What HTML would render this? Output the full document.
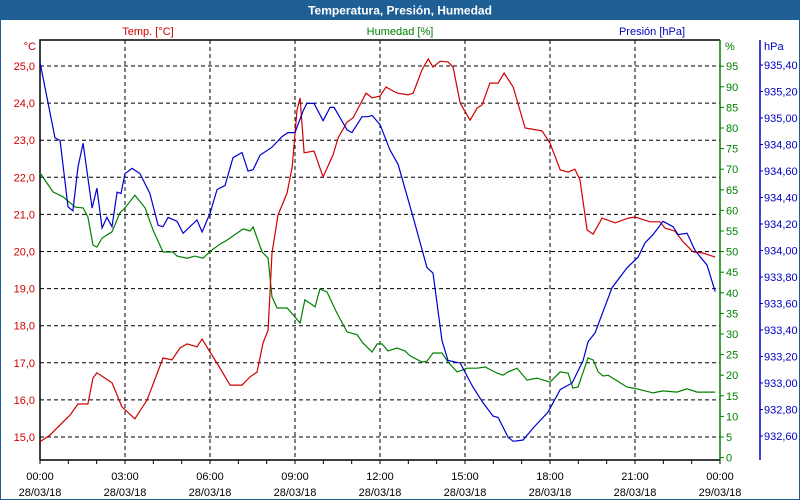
<!DOCTYPE html>
<html><head><meta charset="utf-8"><style>
body{margin:0;width:800px;height:500px;overflow:hidden;background:#fff;font-family:"Liberation Sans",sans-serif}
svg{display:block}
</style></head><body>
<svg id="chart" width="800" height="500" xmlns="http://www.w3.org/2000/svg">
<rect x="0" y="0" width="800" height="500" fill="#fff" stroke="#1f5f96" stroke-width="2"/>
<rect x="0" y="0" width="800" height="20" fill="#1f5f96"/>
<text x="400" y="14.5" text-anchor="middle" fill="#fff" font-size="12" font-weight="bold">Temperatura, Presión, Humedad</text>
<text x="148" y="35" text-anchor="middle" fill="#d00000" font-size="11">Temp. [°C]</text>
<text x="400" y="35" text-anchor="middle" fill="#008000" font-size="11">Humedad [%]</text>
<text x="652" y="35" text-anchor="middle" fill="#0000c0" font-size="11">Presión [hPa]</text>
<text x="36" y="50" text-anchor="end" fill="#d00000" font-size="11">°C</text>
<text x="725" y="50" fill="#008000" font-size="11">%</text>
<text x="764" y="50" fill="#0000c0" font-size="11">hPa</text>
<g id="grid"></g><g id="axes"></g><g id="series"></g>
</svg>
<script>
const tempTicks=[15,16,17,18,19,20,21,22,23,24,25];
const humTicks=[0,5,10,15,20,25,30,35,40,45,50,55,60,65,70,75,80,85,90,95];
const presTicks=[932.6,932.8,933.0,933.2,933.4,933.6,933.8,934.0,934.2,934.4,934.6,934.8,935.0,935.2,935.4];
const timeLabels=["00:00","03:00","06:00","09:00","12:00","15:00","18:00","21:00","00:00"];
const dateLabels=["28/03/18","28/03/18","28/03/18","28/03/18","28/03/18","28/03/18","28/03/18","28/03/18","29/03/18"];
const tempHours=[0,0.35,1.06,1.34,1.69,1.87,2.01,2.54,2.89,3.35,3.78,4.34,4.66,4.94,5.19,5.54,5.72,6.0,6.35,6.71,7.13,7.41,7.66,7.87,8.05,8.19,8.4,8.72,8.9,9.07,9.18,9.32,9.67,9.99,10.34,10.52,10.84,11.05,11.51,11.72,12.0,12.21,12.6,12.99,13.17,13.48,13.7,13.87,14.12,14.4,14.58,14.83,15.18,15.43,15.6,15.88,16.17,16.38,16.7,17.12,17.37,17.72,18.0,18.36,18.64,18.88,19.06,19.31,19.52,19.84,20.3,20.76,21.0,21.53,21.88,22.06,22.41,22.7,23.05,23.4,23.83];
const tempValues=[14.87,15.05,15.59,15.89,15.89,16.59,16.73,16.46,15.81,15.49,16.0,17.13,17.08,17.4,17.51,17.43,17.64,17.29,16.86,16.4,16.4,16.62,16.75,17.53,17.88,19.96,20.98,21.58,22.28,23.81,24.14,22.66,22.71,22.01,22.6,23.06,23.49,23.6,24.27,24.14,24.19,24.43,24.27,24.22,24.27,24.89,25.19,24.97,25.13,25.11,24.97,24.0,23.54,23.87,23.95,24.54,24.54,24.81,24.43,23.33,23.3,23.25,22.92,22.2,22.14,22.22,21.93,20.58,20.47,20.9,20.77,20.9,20.93,20.8,20.8,20.63,20.55,20.26,19.99,19.96,19.85];
const humHours=[0,0.46,0.81,1.24,1.52,1.69,1.87,2.01,2.19,2.54,2.82,3.0,3.35,3.71,3.99,4.34,4.69,4.84,5.19,5.47,5.75,6.07,6.35,6.6,7.17,7.41,7.52,7.84,8.05,8.19,8.37,8.72,9.18,9.35,9.71,9.88,10.13,10.48,10.84,11.19,11.4,11.72,11.9,12.07,12.28,12.6,12.88,13.06,13.48,13.66,13.87,14.19,14.4,14.72,15.07,15.43,15.71,16.13,16.34,16.52,16.84,17.19,17.54,18.0,18.36,18.64,18.81,18.99,19.34,19.52,19.7,19.87,20.05,20.72,21.07,21.64,21.99,22.48,22.84,23.19,23.83];
const humValues=[69.1,64.5,63.3,60.8,60.6,58.4,51.6,51.1,53.3,54.8,59.4,60.6,63.7,60.6,55.2,49.9,49.9,48.9,48.4,48.9,48.4,50.4,51.8,52.8,55.5,55.0,56.0,49.9,48.4,39.0,36.3,36.3,32.7,38.3,36.6,40.9,40.2,35.1,30.5,29.8,27.8,25.6,27.6,27.6,25.9,26.6,25.9,24.7,23.2,23.4,25.4,25.4,23.2,20.8,21.7,21.7,22.0,20.5,20.0,20.8,21.7,18.8,19.3,18.3,20.8,20.5,16.9,17.1,24.2,23.7,20.8,19.8,20.0,17.1,16.7,15.7,16.2,15.9,16.7,15.9,15.9];
const presHours=[0,0.53,0.71,0.99,1.16,1.34,1.52,1.84,2.01,2.19,2.36,2.54,2.72,2.86,3.0,3.25,3.53,3.88,4.17,4.34,4.52,4.84,5.05,5.54,5.72,6.0,6.25,6.53,6.81,7.13,7.34,7.52,7.77,8.19,8.54,8.75,9.0,9.28,9.42,9.67,9.99,10.24,10.38,10.84,11.01,11.37,11.58,11.72,12.0,12.35,12.64,13.17,13.66,13.87,14.19,14.4,14.83,15.28,15.64,15.99,16.17,16.52,16.7,17.05,17.4,17.93,18.36,18.78,19.17,19.34,19.59,20.19,20.72,21.11,21.36,21.64,21.99,22.34,22.52,22.84,23.12,23.54,23.83];
const presValues=[935.42,934.85,934.83,934.33,934.30,934.63,934.81,934.32,934.47,934.17,934.25,934.18,934.44,934.43,934.58,934.62,934.58,934.43,934.19,934.18,934.25,934.22,934.13,934.23,934.14,934.28,934.46,934.49,934.70,934.74,934.60,934.61,934.72,934.78,934.86,934.89,934.89,935.05,935.11,935.11,934.98,935.08,935.08,934.91,934.89,935.01,935.01,935.02,934.95,934.76,934.65,934.25,933.87,933.83,933.32,933.17,933.15,932.97,932.85,932.75,932.74,932.59,932.56,932.57,932.66,932.78,932.95,933.00,933.17,933.31,933.38,933.72,933.87,933.95,934.06,934.12,934.22,934.18,934.12,934.13,934.00,933.89,933.69];

const NS="http://www.w3.org/2000/svg";
const xS=h=>40+h*680/24;
const yT=t=>437-(t-15)*37.1;
const yH=v=>437-(v-5)*4.12;
const yP=p=>436-(p-932.6)*132.5;
function mk(parent,tag,attrs,text){const e=document.createElementNS(NS,tag);for(const k in attrs)e.setAttribute(k,attrs[k]);if(text!==undefined)e.textContent=text;document.getElementById(parent).appendChild(e);return e;}
const fmt=(v,d)=>v.toFixed(d).replace('.',',');

tempTicks.forEach(t=>{
  const l=mk('grid','line',{x1:40,x2:720,y1:yT(t),y2:yT(t),stroke:'#000','stroke-dasharray':'4,3','stroke-width':1});
  
  
  const tx=mk('axes','text',{x:35,y:yT(t)+4,'text-anchor':'end',fill:'#d00000','font-size':11},fmt(t,1));
  
  
});
for(let k=1;k<8;k++){
  const l=mk('grid','line',{x1:xS(k*3),x2:xS(k*3),y1:40,y2:460,stroke:'#000','stroke-dasharray':'4,3','stroke-width':1});
  
  
}
const fr=mk('axes','path',{d:'M40,460 L40,40 L720,40',fill:'none',stroke:'#000','stroke-width':1.5});


const xa=mk('axes','line',{x1:40,x2:720,y1:460,y2:460,stroke:'#000','stroke-width':1.5});


for(let h=0;h<=24;h++){
  const t=mk('axes','line',{x1:xS(h),x2:xS(h),y1:460,y2:464,stroke:'#000'});
  
  
}
timeLabels.forEach((s,i)=>{
  const a=mk('axes','text',{x:xS(i*3),y:480,'text-anchor':'middle',fill:'#000','font-size':11},s);
  
  
  const b=mk('axes','text',{x:xS(i*3),y:496,'text-anchor':'middle',fill:'#000','font-size':11},dateLabels[i]);
  
  
});
const ga=mk('axes','line',{x1:720,x2:720,y1:40,y2:460,stroke:'#008000','stroke-width':1.5});


humTicks.forEach(v=>{
  const t=mk('axes','line',{x1:720,x2:724,y1:yH(v),y2:yH(v),stroke:'#008000'});
  
  
  const tx=mk('axes','text',{x:726,y:yH(v)+4,fill:'#008000','font-size':11},String(v));
  
  
});
const ba=mk('axes','line',{x1:760,x2:760,y1:40,y2:460,stroke:'#0000c0','stroke-width':1.5});


presTicks.forEach(p=>{
  const t=mk('axes','line',{x1:760,x2:763,y1:yP(p),y2:yP(p),stroke:'#0000c0'});
  
  
  const tx=mk('axes','text',{x:764,y:yP(p)+4,fill:'#0000c0','font-size':11},fmt(p,2));
  
  
});
function line(hours,vals,yf,color,name){
  const d=hours.map((h,i)=>(i?'L':'M')+xS(h).toFixed(1)+','+yf(vals[i]).toFixed(1)).join(' ');
  const p=mk('series','path',{d:d,fill:'none',stroke:color,'stroke-width':1.2});
  
  
}
line(humHours,humValues,yH,'#008000','humidity-line');
line(tempHours,tempValues,yT,'#d00000','temperature-line');
line(presHours,presValues,yP,'#0000d0','pressure-line');
</script>
</body></html>
